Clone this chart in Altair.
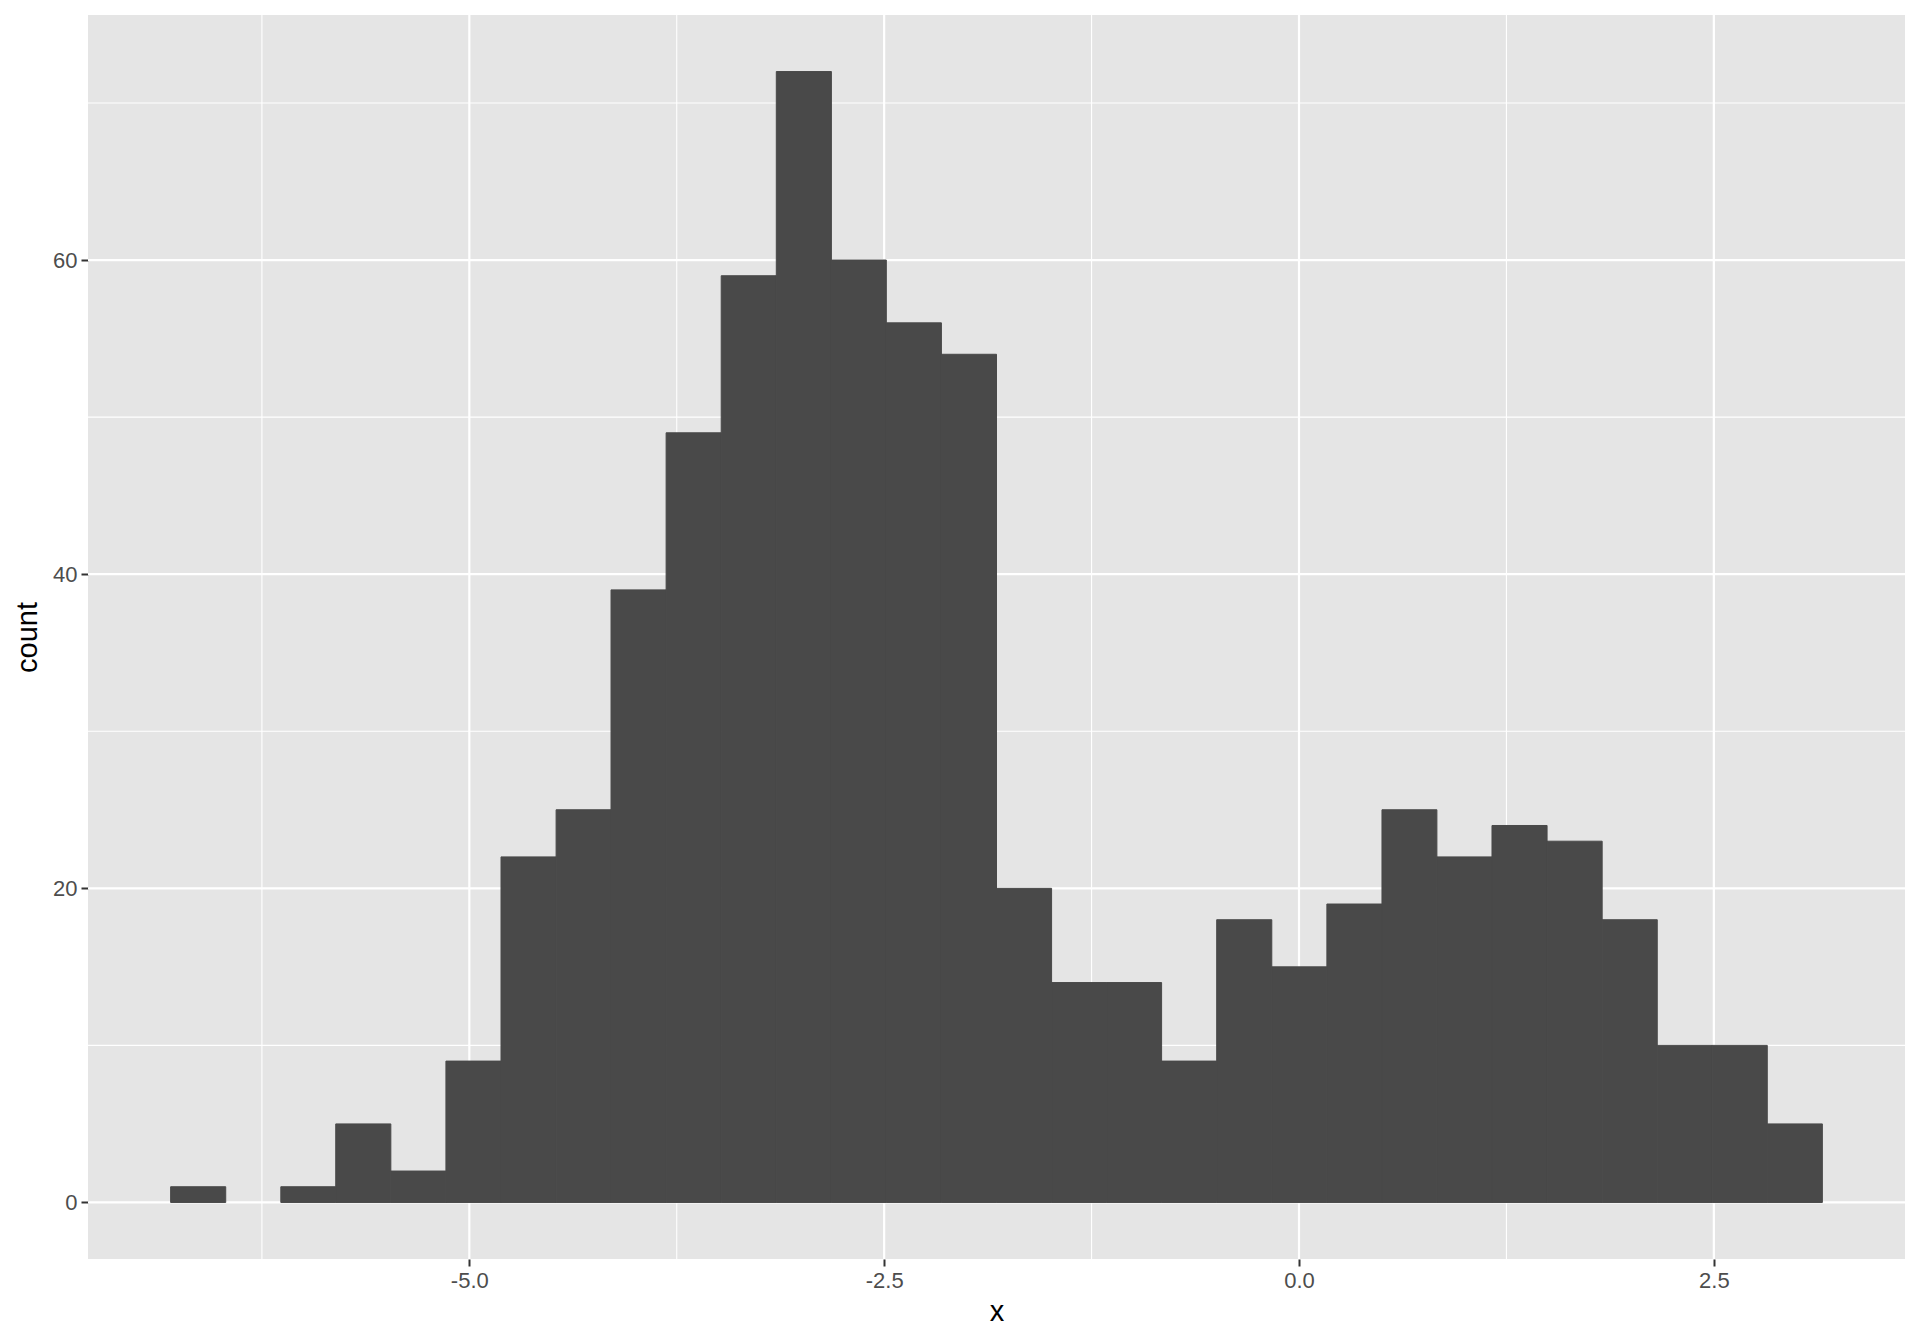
import altair as alt
import pandas as pd

# Histogram bins (left/right edges) and counts
bin_left = [-6.800, -6.468, -6.136, -5.805, -5.473, -5.141, -4.809, -4.477, -4.146, -3.814,
            -3.482, -3.150, -2.818, -2.487, -2.155, -1.823, -1.491, -1.159, -0.828, -0.496,
            -0.164, 0.168, 0.500, 0.831, 1.163, 1.495, 1.827, 2.159, 2.490, 2.822]
bin_right = [-6.468, -6.136, -5.805, -5.473, -5.141, -4.809, -4.477, -4.146, -3.814, -3.482,
             -3.150, -2.818, -2.487, -2.155, -1.823, -1.491, -1.159, -0.828, -0.496, -0.164,
             0.168, 0.500, 0.831, 1.163, 1.495, 1.827, 2.159, 2.490, 2.822, 3.154]
counts = [1, 0, 1, 5, 2, 9, 22, 25, 39, 49,
          59, 72, 60, 56, 54, 20, 14, 14, 9, 18,
          15, 19, 25, 22, 24, 23, 18, 10, 10, 5]

x_major = [-5.0, -2.5, 0.0, 2.5]
x_minor = [-6.25, -3.75, -1.25, 1.25]
y_major = [0, 20, 40, 60]
y_minor = [10, 30, 50, 70]

x_domain = [-7.298, 3.652]
y_domain = [-3.6, 75.6]

df = pd.DataFrame({"left": bin_left, "right": bin_right, "count": counts})
df = df[df["count"] > 0]

xs = alt.Scale(domain=x_domain, nice=False, zero=False)
ys = alt.Scale(domain=y_domain, nice=False, zero=False)
x_axis = alt.Axis(
    values=x_major, grid=False,
    labelExpr="datum.value < 0 ? '-' + format(-datum.value, '.1f') : format(datum.value, '.1f')",
)
y_axis = alt.Axis(values=y_major, format="d", grid=False)


def vrules(vals, w):
    return alt.Chart(pd.DataFrame({"left": vals})).mark_rule(color="white", strokeWidth=w).encode(
        x=alt.X("left:Q", scale=xs, axis=x_axis, title="x")
    )


def hrules(vals, w):
    return alt.Chart(pd.DataFrame({"count": vals})).mark_rule(color="white", strokeWidth=w).encode(
        y=alt.Y("count:Q", scale=ys, axis=y_axis, title="count")
    )


bars = alt.Chart(df).mark_rect(color="#494949", stroke="#494949", strokeWidth=1).encode(
    x=alt.X("left:Q", scale=xs, title="x", axis=x_axis),
    x2="right:Q",
    y=alt.Y("count:Q", scale=ys, title="count", axis=y_axis),
    y2=alt.datum(0),
)

chart = alt.layer(
    vrules(x_minor, 1.1), hrules(y_minor, 1.1),
    vrules(x_major, 2.2), hrules(y_major, 2.2),
    bars,
).properties(
    width=1817, height=1244,
    autosize=alt.AutoSizeParams(type="none"),
    padding={"left": 80, "top": 7, "right": 7, "bottom": 77},
).configure_view(
    fill="#E5E5E5", stroke=None
).configure_axis(
    domain=False,
    tickColor="#333333", tickSize=7, tickWidth=2,
    labelFont="Liberation Sans", labelFontSize=22, labelColor="#4D4D4D", labelPadding=4,
    titleFont="Liberation Sans", titleFontSize=29, titleColor="#000000", titleFontWeight="normal",
).configure_axisX(
    titlePadding=6
).configure_axisY(
    titlePadding=10
)

chart.save("out.html", embed_options={"renderer": "svg", "actions": False})
